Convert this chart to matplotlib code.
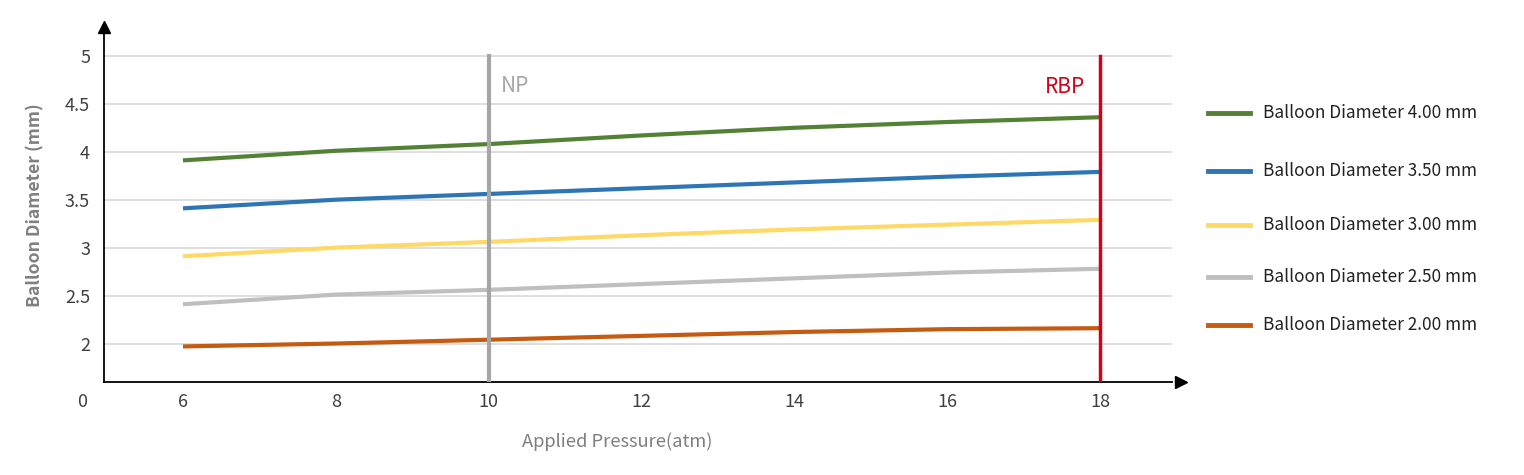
import matplotlib
matplotlib.use("Agg")
import matplotlib.pyplot as plt
from matplotlib.lines import Line2D

plt.rcParams['font.family'] = ['Noto Sans CJK SC', 'DejaVu Sans']

# pressure (atm) and balloon diameter per nominal size
pressure = [6, 8, 10, 12, 14, 16, 18]
d400 = [3.91, 4.01, 4.08, 4.17, 4.25, 4.31, 4.36]
d350 = [3.41, 3.50, 3.56, 3.62, 3.68, 3.74, 3.79]
d300 = [2.91, 3.00, 3.06, 3.13, 3.19, 3.24, 3.29]
d250 = [2.41, 2.51, 2.56, 2.62, 2.68, 2.74, 2.78]
d200 = [1.97, 2.00, 2.04, 2.08, 2.12, 2.15, 2.16]

labels = ['Balloon Diameter 4.00 mm', 'Balloon Diameter 3.50 mm',
          'Balloon Diameter 3.00 mm', 'Balloon Diameter 2.50 mm',
          'Balloon Diameter 2.00 mm']
colors = ['#538135', '#2e75b6', '#ffd966', '#bfbfbf', '#c55a11']
series = [d400, d350, d300, d250, d200]

yticks = [2, 2.5, 3, 3.5, 4, 4.5, 5]
ytick_labels = ['2', '2.5', '3', '3.5', '4', '4.5', '5']
xticks = [6, 8, 10, 12, 14, 16, 18]
np_x = 10
rbp_x = 18

fig = plt.figure(figsize=(15.24, 4.75), dpi=100)
ax = fig.add_axes([0.0682, 0.196, 0.7008, 0.747])

for y in yticks:
    ax.axhline(y, color='#d9d9d9', lw=1.2, zorder=1)

for vals, c, lab in zip(series, colors, labels):
    ax.plot(pressure, vals, color=c, lw=3, label=lab, zorder=3, solid_capstyle='butt')

ax.plot([np_x, np_x], [1.6, 5], color='#a6a6a6', lw=3, zorder=4)
ax.plot([rbp_x, rbp_x], [1.6, 5], color='#d0021b', lw=2.5, zorder=4)
ax.text(np_x + 0.16, 4.69, 'NP', color='#a6a6a6', fontsize=15, va='center', ha='left')
ax.text(rbp_x - 0.2, 4.68, 'RBP', color='#d0021b', fontsize=15, va='center', ha='right')

ax.set_xlim(4.966, 18.94)
ax.set_ylim(1.6, 5.3)
ax.set_xticks(xticks)
ax.set_xticklabels([str(x) for x in xticks])
ax.set_yticks(yticks)
ax.set_yticklabels(ytick_labels)
ax.tick_params(length=0, labelsize=13, colors='#404040')
ax.tick_params(axis='x', pad=8)
ax.tick_params(axis='y', pad=10)

for s in ['top', 'right']:
    ax.spines[s].set_visible(False)
ax.spines['left'].set_color('black')
ax.spines['bottom'].set_color('black')
ax.spines['left'].set_linewidth(1.3)
ax.spines['bottom'].set_linewidth(1.3)
ax.plot(1.008, 0, '>k', markersize=9, transform=ax.transAxes, clip_on=False)
ax.plot(0, 1, '^k', markersize=9, transform=ax.transAxes, clip_on=False)

ax.annotate('0', xy=(0, 0), xycoords='axes fraction', xytext=(-16, -14.5),
            textcoords='offset points', ha='center', va='center',
            fontsize=13, color='#404040')

fig.text(0.0236, 0.568, 'Balloon Diameter (mm)', rotation=90, ha='center', va='center',
         fontsize=12.7, fontweight='bold', color='#808080')
fig.text(0.405, 0.07, 'Applied Pressure(atm)', ha='center', va='center',
         fontsize=13.2, color='#7f7f7f')

# legend drawn by hand, entries are unevenly spaced in the original
leg_y = [0.762, 0.640, 0.526, 0.417, 0.316]
for yy, c, lab in zip(leg_y, colors, labels):
    fig.add_artist(Line2D([0.7925, 0.820], [yy, yy], color=c, lw=3.5))
    fig.text(0.829, yy, lab, ha='left', va='center', fontsize=12.4, color='#222222')

fig.savefig('out.png', dpi=100)
